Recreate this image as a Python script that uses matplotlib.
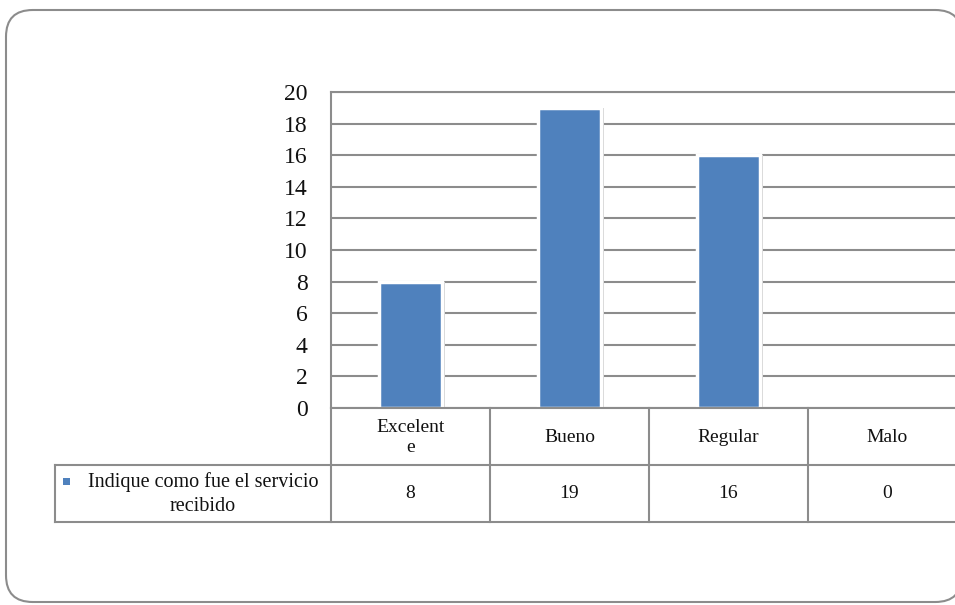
import matplotlib
matplotlib.use("Agg")
import matplotlib.pyplot as plt
from matplotlib.patches import FancyBboxPatch, Rectangle
from matplotlib.lines import Line2D

categories = ["Excelent\ne", "Bueno", "Regular", "Malo"]
values = [8, 19, 16, 0]
series_name = "Indique como fue el servicio\nrecibido"
yticks = [0, 2, 4, 6, 8, 10, 12, 14, 16, 18, 20]

W, H = 955, 605
fig = plt.figure(figsize=(W / 100, H / 100), dpi=100)
plt.rcParams['font.family'] = ['Liberation Serif', 'DejaVu Serif']

def fx(px):
    return px / W

def fy(py):
    return 1 - py / H

# outer rounded border
border = FancyBboxPatch((fx(6), fy(602)), fx(962) - fx(6), fy(10) - fy(602),
                        boxstyle="round,pad=0,rounding_size=0.028",
                        transform=fig.transFigure, facecolor='white',
                        edgecolor='#8c8c8c', linewidth=1.5, zorder=-5,
                        mutation_aspect=W / H)
fig.patches.append(border)

# axes: plot area 331..967 px wide, 92..408 px high
left, right, top, bottom = 331, 967, 92, 408
ax = fig.add_axes([fx(left), fy(bottom), fx(right) - fx(left), fy(top) - fy(bottom)])
ax.set_zorder(2)
ax.set_facecolor('none')
n = len(categories)
ax.set_xlim(-0.5, n - 0.5)
ax.set_ylim(0, 20)
ax.set_yticks(yticks)
ax.set_yticklabels([str(t) for t in yticks], fontsize=17, color='#111111')
ax.tick_params(axis='y', length=0, pad=17)
ax.set_xticks([])
for s in ['right', 'bottom']:
    ax.spines[s].set_visible(False)
ax.spines['left'].set_color('#8c8c8c')
ax.spines['left'].set_linewidth(1.5)
ax.spines['top'].set_color('#8c8c8c')
ax.spines['top'].set_linewidth(1.5)
ax.yaxis.grid(True, color='#8c8c8c', linewidth=1.5)
ax.set_axisbelow(True)

x = list(range(n))
bw = 0.39
# shadow
ax.bar([xi + 0.02 for xi in x], values, width=bw, color='#d0d0d0',
       edgecolor='none', zorder=2)
ax.bar(x, values, width=bw, color='#4F81BD', edgecolor='white',
       linewidth=2.5, zorder=3)

# table
row1_top, row1_bot, row2_bot = 408, 465, 522
col_px = [left + i * (right - left) / n for i in range(n + 1)]
lc = '#8c8c8c'
lw = 1.5

def hline(y, x0, x1):
    fig.add_artist(Line2D([fx(x0), fx(x1)], [fy(y), fy(y)], transform=fig.transFigure,
                          color=lc, linewidth=lw, zorder=5))

def vline(xp, y0, y1):
    fig.add_artist(Line2D([fx(xp), fx(xp)], [fy(y0), fy(y1)], transform=fig.transFigure,
                          color=lc, linewidth=lw, zorder=5))

hline(row1_top, left, right)
hline(row1_bot, 55, right)
hline(row2_bot, 55, right)
vline(55, row1_bot, row2_bot)
for c in col_px:
    vline(c, row1_top, row2_bot)

for i, (cat, v) in enumerate(zip(categories, values)):
    cx = (col_px[i] + col_px[i + 1]) / 2
    fig.text(fx(cx), fy((row1_top + row1_bot) / 2 + 1), cat, ha='center', va='center',
             fontsize=14, color='#111111', linespacing=1.3)
    fig.text(fx(cx), fy((row1_bot + row2_bot) / 2), str(v), ha='center', va='center',
             fontsize=14, color='#111111')

# legend cell
fig.patches.append(Rectangle((fx(63), fy(485)), 7 / W, 7 / H,
                             transform=fig.transFigure, facecolor='#4F81BD',
                             edgecolor='none'))
fig.text(fx(203), fy(494), series_name, ha='center', va='center', fontsize=14.5,
         color='#111111', linespacing=1.3)

fig.savefig("out.png", dpi=100)
